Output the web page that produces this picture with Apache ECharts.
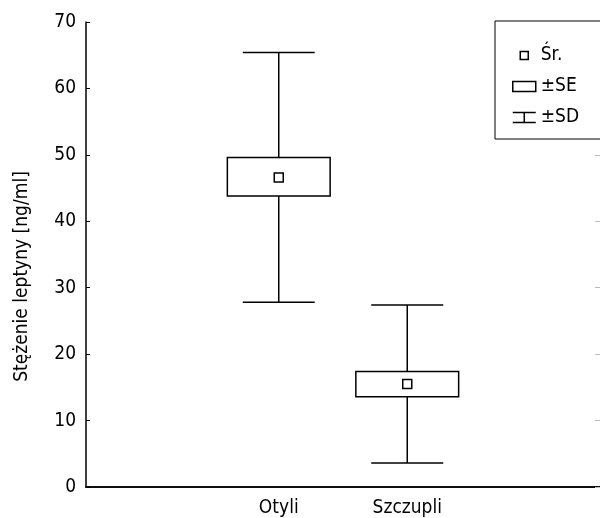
<!DOCTYPE html>
<html>
<head>
<meta charset="utf-8">
<script src="https://cdn.jsdelivr.net/npm/echarts@6/dist/echarts.min.js"></script>
<style>
  html, body { margin: 0; padding: 0; background: #fff; }
  #chart { width: 600px; height: 518px; }
</style>
</head>
<body>
<div id="chart"></div>
<script>
// dane
var categories = ['', 'Otyli', 'Szczupli', ''];
var groupIndex = [1, 2];
var means = [46.6, 15.5];
var seLow = [43.8, 13.6];
var seHigh = [49.6, 17.4];
var sdLow = [27.8, 3.6];
var sdHigh = [65.4, 27.4];
var yTicks = [0, 10, 20, 30, 40, 50, 60, 70];

var FONT = "'DejaVu Sans Condensed', 'Liberation Sans', sans-serif";

var sdData = groupIndex.map(function (g, i) { return [g, sdLow[i], sdHigh[i]]; });
var seData = groupIndex.map(function (g, i) { return [g, seLow[i], seHigh[i]]; });
var meanData = groupIndex.map(function (g, i) { return [g, means[i]]; });

function renderSD(params, api) {
    var x = api.value(0);
    var lo = api.coord([x, api.value(1)]);
    var hi = api.coord([x, api.value(2)]);
    var cap = api.size([1, 0])[0] * 0.56 / 2;
    var st = { stroke: '#000', lineWidth: 1.5 };
    return {
        type: 'group',
        children: [
            { type: 'line', shape: { x1: lo[0], y1: lo[1], x2: hi[0], y2: hi[1] }, style: st },
            { type: 'line', shape: { x1: lo[0] - cap, y1: lo[1], x2: lo[0] + cap, y2: lo[1] }, style: st },
            { type: 'line', shape: { x1: hi[0] - cap, y1: hi[1], x2: hi[0] + cap, y2: hi[1] }, style: st }
        ]
    };
}

function renderSE(params, api) {
    var x = api.value(0);
    var lo = api.coord([x, api.value(1)]);
    var hi = api.coord([x, api.value(2)]);
    var w = api.size([1, 0])[0] * 0.8;
    return {
        type: 'rect',
        shape: { x: lo[0] - w / 2, y: hi[1], width: w, height: lo[1] - hi[1] },
        style: { fill: '#fff', stroke: '#000', lineWidth: 1.5 }
    };
}

var myChart = echarts.init(document.getElementById('chart'));
myChart.setOption({
    animation: false,
    textStyle: { fontFamily: FONT, color: '#000' },
    grid: { left: 86, top: 22, width: 518, height: 466, containLabel: false },
    legend: {
        orient: 'vertical',
        left: 495,
        top: 21,
        padding: [25, 40, 12, 17],
        itemGap: 12,
        itemWidth: 23,
        itemHeight: 10,
        backgroundColor: '#fff',
        borderColor: '#000',
        borderWidth: 1,
        selectedMode: false,
        textStyle: { fontFamily: FONT, fontSize: 19, color: '#000' },
        data: [
            { name: 'Śr.', icon: 'path://M0,0M23,10M7.5,1h8v8h-8z',
              itemStyle: { color: 'rgba(0,0,0,0)', borderColor: '#000', borderWidth: 1.5 } },
            { name: '±SE', icon: 'path://M0,0h23v10h-23z',
              itemStyle: { color: 'rgba(0,0,0,0)', borderColor: '#000', borderWidth: 1.5 } },
            { name: '±SD', icon: 'path://M0,0h23M11.5,0v10M0,10h23',
              itemStyle: { color: 'rgba(0,0,0,0)', borderColor: '#000', borderWidth: 1.5 } }
        ]
    },
    xAxis: [{
        type: 'category',
        data: categories,
        boundaryGap: true,
        axisLine: { lineStyle: { color: '#000', width: 1.5 } },
        axisTick: { inside: true, alignWithLabel: true, length: 4, lineStyle: { color: '#000' } },
        axisLabel: { fontFamily: FONT, fontSize: 19, color: '#000', margin: 12, interval: 0 },
        splitLine: { show: false }
    }, {
        type: 'category',
        data: categories,
        position: 'top',
        boundaryGap: true,
        axisLine: { lineStyle: { color: '#000', width: 1.5 } },
        axisTick: { inside: true, alignWithLabel: true, length: 4, lineStyle: { color: '#000' } },
        axisLabel: { show: false },
        splitLine: { show: false }
    }],
    yAxis: [{
        type: 'value',
        min: yTicks[0],
        max: yTicks[yTicks.length - 1],
        interval: 10,
        name: 'Stężenie leptyny [ng/ml]',
        nameLocation: 'middle',
        nameGap: 54,
        nameTextStyle: { fontFamily: FONT, fontSize: 19, color: '#000', padding: [0, 44, 0, 0] },
        axisLine: { show: true, lineStyle: { color: '#000', width: 1.5 } },
        axisTick: { show: true, inside: true, length: 4, lineStyle: { color: '#000' } },
        axisLabel: { fontFamily: FONT, fontSize: 19, color: '#000', margin: 10 },
        splitLine: { show: false }
    }, {
        type: 'value',
        position: 'right',
        min: yTicks[0],
        max: yTicks[yTicks.length - 1],
        interval: 10,
        axisLine: { show: false },
        axisTick: { show: true, inside: true, length: 5, lineStyle: { color: '#bbb' } },
        axisLabel: { show: false },
        splitLine: { show: false }
    }],
    series: [{
        name: '±SD',
        type: 'custom',
        renderItem: renderSD,
        data: sdData,
        encode: { x: 0, y: [1, 2] },
        z: 2
    }, {
        name: '±SE',
        type: 'custom',
        renderItem: renderSE,
        data: seData,
        encode: { x: 0, y: [1, 2] },
        z: 3
    }, {
        name: 'Śr.',
        type: 'scatter',
        data: meanData,
        symbol: 'rect',
        symbolSize: 9,
        itemStyle: { color: '#fff', borderColor: '#000', borderWidth: 1.5, opacity: 1 },
        z: 4
    }]
});
</script>
</body>
</html>
